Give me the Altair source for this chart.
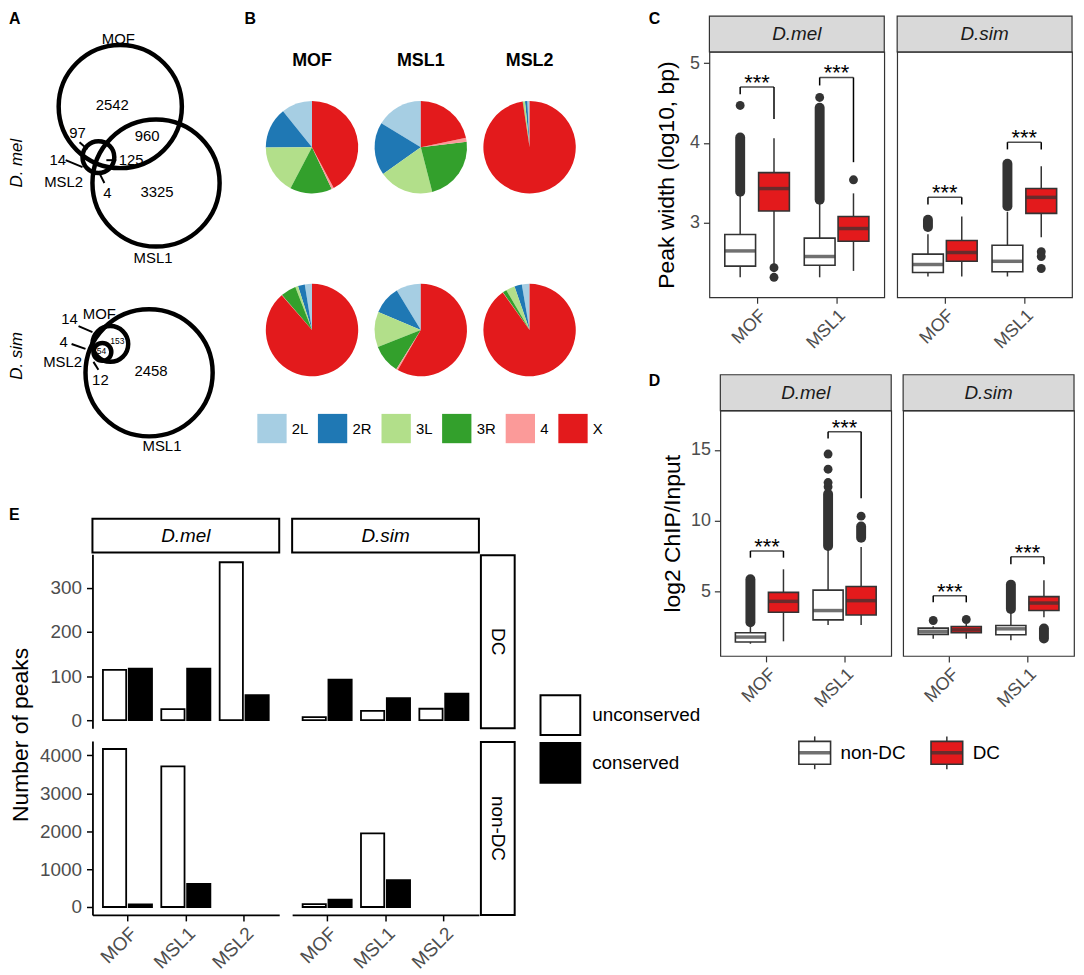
import math
import altair as alt
import pandas as pd

FONT = "Liberation Sans"
TXT = "#4D4D4D"
DARK = "#333333"
RED = "#E31A1C"
STRIP_FILL = "#D9D9D9"

species = ["D.mel", "D.sim"]
proteins2 = ["MOF", "MSL1"]
proteins3 = ["MOF", "MSL1", "MSL2"]
groups = ["non-DC", "DC"]
cons_levels = ["unconserved", "conserved"]
letters = ["A", "B", "C", "D", "E"]

# ---------------- A: Venn diagrams (layout units) ----------------
venn_sp = ["D.mel", "D.mel", "D.mel", "D.sim", "D.sim", "D.sim"]
venn_set = ["MOF", "MSL1", "MSL2", "MSL1", "MOF", "MSL2"]
venn_cx = [120, 156, 98, 149, 110, 102]
venn_cy = [101, 178, 152, 369, 340, 348]
venn_r = [62, 64, 16, 64, 18, 9]

venn_lab = ["MOF", "2542", "97", "960", "14", "125", "MSL2", "4", "3325", "MSL1",
            "14", "MOF", "4", "MSL2", "12", "2458", "MSL1"]
venn_lx = [118, 112, 77, 147, 57, 131, 63, 107, 157, 153, 69, 99, 63, 62, 100, 151, 162]
venn_ly = [33, 99, 128, 131, 155, 155, 177, 188, 187, 253, 315, 310, 338, 358, 376, 367, 443]
venn_small = ["153", "54"]
venn_sx = [117, 101]
venn_sy = [337, 347]
lead_x1 = [79, 65, 106, 104, 78, 71, 93]
lead_y1 = [137, 155, 155, 178, 322, 340, 358]
lead_x2 = [87, 82, 116, 99, 92, 85, 98]
lead_y2 = [144, 162, 155, 168, 328, 345, 366]
venn_side = ["D. mel", "D. sim"]
venn_side_x = [16.5, 16.5]
venn_side_y = [158, 352]

# ---------------- B: pie charts ----------------
chroms = ["2L", "2R", "3L", "3R", "4", "X"]
chrom_colors = ["#A6CEE3", "#1F78B4", "#B2DF8A", "#33A02C", "#FB9A99", "#E31A1C"]
pct_mel_mof = [10.8, 14.3, 17.2, 14.7, 0.8, 42.2]
pct_mel_msl1 = [16.3, 18.5, 19.2, 22.9, 1.4, 21.7]
pct_mel_msl2 = [0.8, 0.8, 0.7, 0.1, 0.0, 97.6]
pct_sim_mof = [2.5, 2.4, 1.0, 5.4, 0.1, 88.6]
pct_sim_msl1 = [8.7, 9.9, 12.4, 10.1, 0.6, 58.3]
pct_sim_msl2 = [2.7, 2.6, 3.1, 1.4, 0.1, 90.1]

# ---------------- C: peak width (log10 bp) ----------------
box_species = ["D.mel"] * 4 + ["D.sim"] * 4
box_protein = ["MOF", "MOF", "MSL1", "MSL1"] * 2
box_group = ["non-DC", "DC"] * 4
width_low = [2.32, 2.48, 2.32, 2.40, 2.33, 2.33, 2.33, 2.82]
width_q1 = [2.46, 3.15, 2.47, 2.77, 2.38, 2.52, 2.39, 3.12]
width_med = [2.65, 3.43, 2.58, 2.93, 2.48, 2.63, 2.52, 3.32]
width_q3 = [2.855, 3.63, 2.81, 3.08, 2.61, 2.78, 2.72, 3.43]
width_high = [3.37, 4.06, 3.27, 3.37, 2.86, 3.08, 3.14, 3.71]
width_out_species = ["D.mel", "D.mel", "D.mel", "D.mel", "D.mel", "D.sim", "D.sim", "D.sim"]
width_out_protein = ["MOF", "MOF", "MOF", "MSL1", "MSL1", "MSL1", "MSL1", "MSL1"]
width_out_group = ["non-DC", "DC", "DC", "non-DC", "DC", "DC", "DC", "DC"]
width_out_value = [4.47, 2.44, 2.32, 4.57, 3.54, 2.64, 2.58, 2.43]
width_dense_species = ["D.mel", "D.mel", "D.sim", "D.sim"]
width_dense_protein = ["MOF", "MSL1", "MOF", "MSL1"]
width_dense_group = ["non-DC", "non-DC", "non-DC", "non-DC"]
width_dense_lo = [3.39, 3.29, 2.95, 3.21]
width_dense_hi = [4.07, 4.44, 3.04, 3.74]
width_sig_species = ["D.mel", "D.mel", "D.sim", "D.sim"]
width_sig_protein = ["MOF", "MSL1", "MOF", "MSL1"]
width_sig_left = [4.61, 4.72, 3.23, 3.92]
width_sig_top = [4.70, 4.82, 3.32, 4.01]
width_sig_right = [4.30, 3.76, 3.23, 3.92]
sig_label = ["***", "***", "***", "***"]

# ---------------- D: log2 ChIP/Input ----------------
chip_low = [1.33, 1.50, 2.66, 2.66, 1.68, 1.68, 1.57, 3.20]
chip_q1 = [1.45, 3.55, 3.01, 3.36, 1.99, 2.10, 1.96, 3.67]
chip_med = [1.80, 4.32, 3.67, 4.37, 2.20, 2.31, 2.38, 4.20]
chip_q3 = [2.10, 4.95, 5.11, 5.37, 2.43, 2.55, 2.62, 4.65]
chip_high = [2.62, 6.58, 7.98, 8.15, 2.57, 2.75, 3.55, 5.81]
chip_out_species = ["D.mel", "D.mel", "D.mel", "D.mel", "D.mel", "D.sim", "D.sim"]
chip_out_protein = ["MSL1", "MSL1", "MSL1", "MSL1", "MSL1", "MOF", "MOF"]
chip_out_group = ["non-DC", "non-DC", "non-DC", "non-DC", "DC", "non-DC", "DC"]
chip_out_value = [12.4, 12.7, 13.64, 14.71, 10.33, 2.97, 3.04]
chip_dense_species = ["D.mel", "D.mel", "D.mel", "D.sim", "D.sim"]
chip_dense_protein = ["MOF", "MSL1", "MSL1", "MSL1", "MSL1"]
chip_dense_group = ["non-DC", "non-DC", "DC", "non-DC", "DC"]
chip_dense_lo = [2.85, 8.22, 8.8, 3.78, 1.7]
chip_dense_hi = [5.88, 11.9, 9.6, 5.5, 2.4]
chip_sig_species = ["D.mel", "D.mel", "D.sim", "D.sim"]
chip_sig_protein = ["MOF", "MSL1", "MOF", "MSL1"]
chip_sig_left = [7.40, 15.81, 4.25, 6.93]
chip_sig_top = [7.87, 16.28, 4.72, 7.47]
chip_sig_right = [7.40, 11.6, 4.25, 6.93]

# ---------------- E: number of peaks ----------------
e_type = ["DC"] * 12 + ["non-DC"] * 8
e_species = ["D.mel"] * 6 + ["D.sim"] * 6 + ["D.mel"] * 4 + ["D.sim"] * 4
e_protein = ["MOF", "MOF", "MSL1", "MSL1", "MSL2", "MSL2"] * 2 + ["MOF", "MOF", "MSL1", "MSL1"] * 2
e_cons = ["unconserved", "conserved"] * 10
e_count = [114, 117, 25, 117, 358, 57, 7, 92, 21, 50, 26, 60,
           4170, 70, 3710, 610, 75, 197, 1943, 707]
e_ytitle = ["Number of peaks"]

# ======================= helpers =======================
def letter_layer(letter, x, y):
    return alt.Chart(pd.DataFrame({"letter": [letter]})).mark_text(
        fontSize=16, fontWeight="bold", align="left", baseline="alphabetic", color="black"
    ).encode(x=alt.value(x), y=alt.value(y), text="letter:N")


# ======================= A =======================
A_xs = alt.Scale(domain=[8, 200], nice=False, zero=False)
A_ys = alt.Scale(domain=[46, 460], nice=False, zero=False, reverse=True)
venn_df = pd.DataFrame({"species": venn_sp, "set": venn_set, "cx": venn_cx, "cy": venn_cy, "r": venn_r})
lab_df = pd.DataFrame({"t": venn_lab, "x": venn_lx, "y": venn_ly})
small_df = pd.DataFrame({"t": venn_small, "x": venn_sx, "y": venn_sy})
lead_df = pd.DataFrame({"x1": lead_x1, "y1": lead_y1, "x2": lead_x2, "y2": lead_y2})
side_df = pd.DataFrame({"t": venn_side, "x": venn_side_x, "y": venn_side_y})

circles = alt.Chart(venn_df).mark_arc(
    filled=False, stroke="black", strokeWidth=4.5, theta=0, theta2=2 * math.pi
).encode(
    x=alt.X("cx:Q", scale=A_xs, axis=None),
    y=alt.Y("cy:Q", scale=A_ys, axis=None),
    radius=alt.Radius("r:Q", scale=None, stack=False),
)
leaders = alt.Chart(lead_df).mark_rule(color="black", strokeWidth=2).encode(
    x=alt.X("x1:Q", scale=A_xs, axis=None), y=alt.Y("y1:Q", scale=A_ys, axis=None),
    x2="x2:Q", y2="y2:Q",
)
labs = alt.Chart(lab_df).mark_text(fontSize=15, color="black").encode(
    x=alt.X("x:Q", scale=A_xs, axis=None), y=alt.Y("y:Q", scale=A_ys, axis=None), text="t:N"
)
smalls = alt.Chart(small_df).mark_text(fontSize=8.5, color="black").encode(
    x=alt.X("x:Q", scale=A_xs, axis=None), y=alt.Y("y:Q", scale=A_ys, axis=None), text="t:N"
)
sides = alt.Chart(side_df).mark_text(fontSize=17, fontStyle="italic", angle=270, color="black").encode(
    x=alt.X("x:Q", scale=A_xs, axis=None), y=alt.Y("y:Q", scale=A_ys, axis=None), text="t:N"
)
A = alt.layer(circles, leaders, labs, smalls, sides, letter_layer("A", 0, -27.7)).properties(width=192, height=414)

# ======================= B =======================
pie_rows = []
for sp, pr, vals in [("D.mel", "MOF", pct_mel_mof), ("D.mel", "MSL1", pct_mel_msl1),
                     ("D.mel", "MSL2", pct_mel_msl2), ("D.sim", "MOF", pct_sim_mof),
                     ("D.sim", "MSL1", pct_sim_msl1), ("D.sim", "MSL2", pct_sim_msl2)]:
    for i, (c, v) in enumerate(zip(chroms, vals)):
        pie_rows.append({"species": sp, "protein": pr, "chrom": c, "ord": i, "pct": v})
pie_df = pd.DataFrame(pie_rows)

B_xs = alt.Scale(type="point", domain=proteins3, range=[113, 332], padding=0)
B_ys = alt.Scale(type="point", domain=species, range=[96, 280], padding=0)
pies = alt.Chart(pie_df).transform_stack(
    as_=["p0", "p1"], stack="pct", groupby=["species", "protein"],
    sort=[alt.SortField("ord", order="descending")],
).mark_arc(radius=46.5).encode(
    x=alt.X("protein:N", scale=B_xs, axis=None),
    y=alt.Y("species:N", scale=B_ys, axis=None),
    theta=alt.Theta("p0:Q", scale=alt.Scale(domain=[0, 100], range=[0, 2 * math.pi])),
    theta2="p1:Q",
    color=alt.Color("chrom:N", scale=alt.Scale(domain=chroms, range=chrom_colors),
                    legend=alt.Legend(orient="none", legendX=57.7, legendY=364, direction="horizontal",
                                      title=None, symbolType="square", symbolSize=870,
                                      symbolStrokeWidth=0, labelFontSize=15, labelOffset=5,
                                      columnPadding=9, padding=0, labelColor="black")),
)
pie_titles = alt.Chart(pd.DataFrame({"protein": proteins3})).mark_text(
    fontSize=18, fontWeight="bold", color="black"
).encode(x=alt.X("protein:N", scale=B_xs, axis=None), y=alt.value(9), text="protein:N")
B = alt.layer(pies, pie_titles, letter_layer("B", 45, -27.7)).properties(width=420, height=414)

AB = alt.hconcat(A, B, spacing=0, bounds="flush").resolve_scale(color="independent")

# ======================= C / D =======================
stats_c = pd.DataFrame({"species": box_species, "protein": box_protein, "group": box_group,
                        "low": width_low, "q1": width_q1, "med": width_med, "q3": width_q3, "high": width_high})
iso_c = pd.DataFrame({"species": width_out_species, "protein": width_out_protein,
                      "group": width_out_group, "value": width_out_value})
dense_c = pd.DataFrame({"species": width_dense_species, "protein": width_dense_protein,
                        "group": width_dense_group, "lo": width_dense_lo, "hi": width_dense_hi})
sig_c = pd.DataFrame({"species": width_sig_species, "protein": width_sig_protein,
                      "left": width_sig_left, "top": width_sig_top, "right": width_sig_right, "lab": sig_label})
stats_d = pd.DataFrame({"species": box_species, "protein": box_protein, "group": box_group,
                        "low": chip_low, "q1": chip_q1, "med": chip_med, "q3": chip_q3, "high": chip_high})
iso_d = pd.DataFrame({"species": chip_out_species, "protein": chip_out_protein,
                      "group": chip_out_group, "value": chip_out_value})
dense_d = pd.DataFrame({"species": chip_dense_species, "protein": chip_dense_protein,
                        "group": chip_dense_group, "lo": chip_dense_lo, "hi": chip_dense_hi})
sig_d = pd.DataFrame({"species": chip_sig_species, "protein": chip_sig_protein,
                      "left": chip_sig_left, "top": chip_sig_top, "right": chip_sig_right, "lab": sig_label})

FILL_SCALE = alt.Scale(domain=groups, range=["white", RED])


def legs_of(sig):
    rows = []
    for _, r in sig.iterrows():
        rows.append({"species": r.species, "protein": r.protein, "group": "non-DC", "bot": r.left, "top": r.top})
        rows.append({"species": r.species, "protein": r.protein, "group": "DC", "bot": r.right, "top": r.top})
    return pd.DataFrame(rows)


def box_panel(sp, pw, ph, stats, iso, dense, sig, ydom, yvals, ytitle, tpad, show_y, dodge):
    xs = alt.Scale(type="band", domain=proteins2, paddingInner=0, paddingOuter=0.1)
    os_ = alt.Scale(type="band", domain=groups, paddingInner=0.09, paddingOuter=0.22)
    ys = alt.Scale(domain=ydom, nice=False, zero=False)
    xax = alt.Axis(title=None, labelAngle=-45, labelAlign="right", labelBaseline="top",
                   labelFontSize=18, labelColor=TXT, tickColor=DARK, tickSize=6, tickWidth=1.2,
                   domain=False, labelPadding=3)
    if show_y:
        yax = alt.Axis(title=ytitle, values=yvals, titleFontSize=23, titleFontWeight="normal",
                       titleColor="black", titlePadding=tpad, labelFontSize=18, labelColor=TXT,
                       tickColor=DARK, tickSize=6, tickWidth=1.2, labelPadding=4, domain=False)
    else:
        yax = None
    X = alt.X("protein:N", scale=xs, axis=xax)
    XO = alt.XOffset("group:N", scale=os_)

    s = stats[stats.species == sp]
    i = iso[iso.species == sp]
    dn = dense[dense.species == sp]
    g = sig[sig.species == sp]
    lg = legs_of(g)
    strip_df = pd.DataFrame({"species": [sp]})

    strip = alt.Chart(strip_df).mark_rect(fill=STRIP_FILL, stroke=DARK, strokeWidth=1.2).encode(
        x=alt.value(0), x2=alt.value(pw), y=alt.value(-36), y2=alt.value(0))
    strip_t = alt.Chart(strip_df).mark_text(fontSize=19, fontStyle="italic", color="#1A1A1A").encode(
        x=alt.value(pw / 2), y=alt.value(-18), text="species:N")
    whisk = alt.Chart(s).mark_rule(color=DARK, strokeWidth=1.5).encode(
        x=X, xOffset=XO, y=alt.Y("low:Q", scale=ys, axis=yax), y2="high:Q")
    dens = alt.Chart(dn).mark_rule(color=DARK, strokeWidth=10, strokeCap="round").encode(
        x=X, xOffset=XO, y=alt.Y("lo:Q", scale=ys, axis=yax), y2="hi:Q")
    boxes = alt.Chart(s).mark_bar(stroke=DARK, strokeWidth=1.6).encode(
        x=X, xOffset=XO, y=alt.Y("q1:Q", scale=ys, axis=yax), y2="q3:Q",
        fill=alt.Fill("group:N", scale=FILL_SCALE, legend=None))
    meds = alt.Chart(s).mark_tick(color=DARK, thickness=3.5, size=dodge - 3, orient="horizontal").encode(
        x=X, xOffset=XO, y=alt.Y("med:Q", scale=ys, axis=yax))
    pts = alt.Chart(i).mark_circle(color=DARK, size=80, opacity=1).encode(
        x=X, xOffset=XO, y=alt.Y("value:Q", scale=ys, axis=yax))
    legs = alt.Chart(lg).mark_rule(color="black", strokeWidth=1.5).encode(
        x=X, xOffset=XO, y=alt.Y("bot:Q", scale=ys, axis=yax), y2="top:Q")
    tops = alt.Chart(g).mark_tick(color="black", thickness=1.5, size=dodge, orient="horizontal").encode(
        x=X, y=alt.Y("top:Q", scale=ys, axis=yax))
    stars = alt.Chart(g).mark_text(fontSize=22, baseline="alphabetic", dy=3, color="black").encode(
        x=X, y=alt.Y("top:Q", scale=ys, axis=yax), text="lab:N")
    return alt.layer(strip, strip_t, whisk, dens, boxes, meds, pts, legs, tops, stars).properties(
        width=pw, height=ph, view=alt.ViewBackground(stroke=DARK, strokeWidth=1.2))


def pad_chart(letter, w, h, y):
    return alt.layer(letter_layer(letter, 0, y)).properties(width=w, height=h)


c_mel = box_panel("D.mel", 176, 247, stats_c, iso_c, dense_c, sig_c, [2.07, 5.14], [3, 4, 5],
                  "Peak width (log10, bp)", 11, True, 34)
c_sim = box_panel("D.sim", 176, 247, stats_c, iso_c, dense_c, sig_c, [2.07, 5.14], [3, 4, 5],
                  "Peak width (log10, bp)", 11, False, 34)
C = alt.hconcat(pad_chart("C", 48, 247, -27.7), c_mel, c_sim, spacing=13, bounds="flush").resolve_scale(
    xOffset="independent")

d_mel = box_panel("D.mel", 172, 247, stats_d, iso_d, dense_d, sig_d, [0.47, 17.78], [5, 10, 15],
                  "log2 ChIP/Input", 6, True, 33.4)
d_sim = box_panel("D.sim", 172, 247, stats_d, iso_d, dense_d, sig_d, [0.47, 17.78], [5, 10, 15],
                  "log2 ChIP/Input", 6, False, 33.4)
D_grid = alt.hconcat(pad_chart("D", 60, 247, -25), d_mel, d_sim, spacing=12, bounds="flush").resolve_scale(
    xOffset="independent")

leg_df = pd.DataFrame({"group": groups})
LX = alt.Scale(type="band", domain=groups, range=[100.5, 366.5], paddingInner=0.76, paddingOuter=0.38)
lw = alt.Chart(leg_df).mark_rule(color=DARK, strokeWidth=1.5).encode(
    x=alt.X("group:N", scale=LX, axis=None), y=alt.value(3), y2=alt.value(36))
lb = alt.Chart(leg_df).mark_bar(stroke=DARK, strokeWidth=1.6).encode(
    x=alt.X("group:N", scale=LX, axis=None), y=alt.value(8), y2=alt.value(31),
    fill=alt.Fill("group:N", scale=FILL_SCALE, legend=None))
lm = alt.Chart(leg_df).mark_tick(color=DARK, thickness=3.5, size=32, orient="horizontal").encode(
    x=alt.X("group:N", scale=LX, axis=None), y=alt.value(19.5))
lt = alt.Chart(leg_df).mark_text(align="left", fontSize=19, dx=26, color="black").encode(
    x=alt.X("group:N", scale=LX, axis=None), y=alt.value(19.5), text="group:N")
D_legend = alt.layer(lw, lb, lm, lt).properties(width=400, height=40)

D_part = alt.vconcat(D_grid, D_legend, spacing=325, bounds="flush").resolve_scale(xOffset="independent")
RIGHT = alt.vconcat(C, D_part, spacing=361, bounds="flush").resolve_scale(xOffset="independent")

# ======================= E =======================
e_df = pd.DataFrame({"type": e_type, "species": e_species, "protein": e_protein,
                     "cons": e_cons, "count": e_count})
E_W, E_H = 188, 175


def e_cell(etype, sp, first_col, bottom_row, with_legend):
    d = e_df[(e_df.type == etype) & (e_df.species == sp)]
    xs = alt.Scale(type="band", domain=proteins3, paddingInner=0, paddingOuter=0.1)
    os_ = alt.Scale(type="band", domain=cons_levels, paddingInner=0.1, paddingOuter=0.18)
    if etype == "DC":
        ys = alt.Scale(domain=[-18, 376], nice=False, zero=False)
        yv = [0, 100, 200, 300]
    else:
        ys = alt.Scale(domain=[-209, 4379], nice=False, zero=False)
        yv = [0, 1000, 2000, 3000, 4000]
    xax = alt.Axis(title=None, labelAngle=-45, labelAlign="right", labelBaseline="top",
                   labelFontSize=19, labelColor=TXT, tickColor="black", tickSize=6, tickWidth=1.5,
                   domainColor="black", domainWidth=1.8, labelPadding=3) if bottom_row else None
    yax = alt.Axis(title=None, values=yv, format="d", labelFontSize=19, labelColor=TXT, tickColor="black",
                   tickSize=6, tickWidth=1.5, domainColor="black", domainWidth=1.8,
                   labelPadding=5) if first_col else None
    if with_legend:
        leg = alt.Legend(orient="none", legendX=249, legendY=141, title=None, symbolType="square",
                         symbolSize=1600, symbolStrokeColor="black", symbolStrokeWidth=2,
                         labelFontSize=19, labelOffset=11, rowPadding=0, padding=0, labelColor="black")
    else:
        leg = None
    layers = []
    if etype == "DC":
        sdf = pd.DataFrame({"species": [sp]})
        layers.append(alt.Chart(sdf).mark_rect(fill="white", stroke="black", strokeWidth=2).encode(
            x=alt.value(0), x2=alt.value(E_W), y=alt.value(-35.7), y2=alt.value(-1.7)))
        layers.append(alt.Chart(sdf).mark_text(fontSize=19, fontStyle="italic", color="black").encode(
            x=alt.value(E_W / 2), y=alt.value(-18.7), text="species:N"))
    if not first_col:
        tdf = pd.DataFrame({"type": [etype]})
        layers.append(alt.Chart(tdf).mark_rect(fill="white", stroke="black", strokeWidth=2).encode(
            x=alt.value(190), x2=alt.value(224), y=alt.value(1), y2=alt.value(175)))
        layers.append(alt.Chart(tdf).mark_text(fontSize=19, angle=90, color="black").encode(
            x=alt.value(207), y=alt.value(88), text="type:N"))
    bars = alt.Chart(d).mark_bar(stroke="black", strokeWidth=1.8).encode(
        x=alt.X("protein:N", scale=xs, axis=xax),
        xOffset=alt.XOffset("cons:N", scale=os_),
        y=alt.Y("count:Q", scale=ys, axis=yax),
        fill=alt.Fill("cons:N", scale=alt.Scale(domain=cons_levels, range=["white", "black"]), legend=leg),
    )
    layers.append(bars)
    return alt.layer(*layers).properties(width=E_W, height=E_H)


E_grid = alt.concat(
    e_cell("DC", "D.mel", True, False, False),
    e_cell("DC", "D.sim", False, False, True),
    e_cell("non-DC", "D.mel", True, True, False),
    e_cell("non-DC", "D.sim", False, True, False),
    columns=2, spacing=13, bounds="flush",
).resolve_scale(fill="independent", xOffset="independent")

e_title = alt.Chart(pd.DataFrame({"t": e_ytitle})).mark_text(
    fontSize=23, angle=270, color="black", baseline="middle"
).encode(x=alt.value(12), y=alt.value(181.8), text="t:N")
E_pad = alt.layer(letter_layer("E", 0, -35), e_title).properties(width=84, height=175)
E = alt.hconcat(E_pad, E_grid, spacing=0, bounds="flush").resolve_scale(fill="independent", xOffset="independent")

LEFT = alt.vconcat(AB, E, spacing=505.7, bounds="flush").resolve_scale(
    fill="independent", color="independent", xOffset="independent")

chart = alt.hconcat(LEFT, RIGHT, spacing=644, bounds="flush", padding=0).resolve_scale(
    fill="independent", color="independent", xOffset="independent"
).configure(font=FONT).configure_view(strokeWidth=0).configure_axis(grid=False)

chart.save("out.html", embed_options={"renderer": "svg", "actions": False})
